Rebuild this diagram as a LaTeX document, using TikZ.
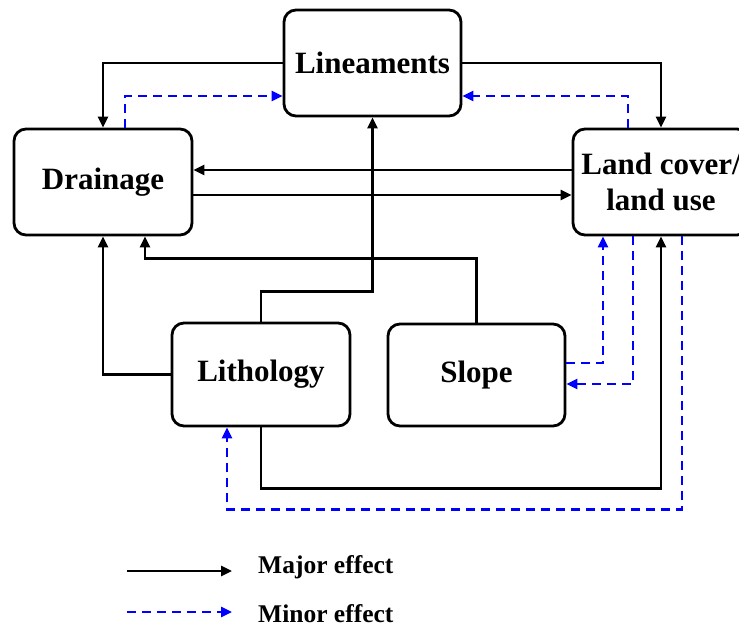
\documentclass[tikz,border=0pt]{standalone}
\usepackage{fontspec}
\setmainfont{Liberation Serif}
\usetikzlibrary{arrows.meta,calc}
\begin{document}
\begin{tikzpicture}[x=1pt,y=-1pt,
  box/.style={draw=black,line width=2.8pt,rounded corners=12pt,align=center,
    font=\fontsize{31}{36}\selectfont\bfseries,inner sep=0pt},
  major/.style={draw=black,line width=2.6pt,-{Triangle[length=11pt,width=10pt]}},
  minor/.style={draw=blue,line width=2.6pt,dash pattern=on 9pt off 6pt,-{Triangle[length=11pt,width=10pt]}},
  legtext/.style={anchor=base west,inner sep=0pt,font=\fontsize{25.5}{30}\selectfont\bfseries}]
\useasboundingbox[fill=white] (0,0) rectangle (739,628);

% boxes
\node[box,minimum width=177pt,minimum height=106pt] (lin) at (372.5,63) {Lineaments};
\node[box,minimum width=178pt,minimum height=106pt] (drain) at (103,182) {Drainage};
\node[box,minimum width=176pt,minimum height=106pt] (lc) at (661,182) {Land cover/\\land use};
\node[box,minimum width=178pt,minimum height=103pt] (lith) at (261,374.5) {Lithology};
\node[box,minimum width=177pt,minimum height=102pt] (slope) at (476.5,375) {Slope};

% connectors
\draw[major] (lin.west) -| (drain.north);
\draw[minor] ($(drain.north)+(22,0)$) |- ($(lin.west)+(0,33)$);
\draw[major] (lin.east) -| (lc.north);
\draw[minor] ($(lc.north)+(-33,0)$) |- ($(lin.east)+(0,33)$);
\draw[major] ($(lc.west)+(0,-12)$) -- ($(drain.east)+(0,-12)$);
\draw[major] ($(drain.east)+(0,13)$) -- ($(lc.west)+(0,13)$);
\draw[major] (slope.north) -- ++(0,-64) -| ($(drain.south)+(42,0)$);
\draw[major] (lith.north) -- ++(0,-30) -| (lin.south);
\draw[major] (lith.west) -| (drain.south);
\draw[major] (lith.south) -- ++(0,61) -| (lc.south);
\draw[minor] ($(lc.south)+(21,0)$) -- ++(0,273) -| ($(lith.south)+(-34,0)$);
\draw[minor] ($(slope.east)+(0,-12)$) -| ($(lc.south)+(-58,0)$);
\draw[minor] ($(lc.south)+(-28,0)$) |- ($(slope.east)+(0,9)$);

% legend
\coordinate (ma1) at (127,571);
\coordinate (ma2) at (232,571);
\coordinate (mi1) at (127,612);
\coordinate (mi2) at (232,612);
\draw[major] (ma1) -- (ma2);
\draw[minor] (mi1) -- (mi2);
\node[legtext] (majt) at (258,573) {Major effect};
\node[legtext] (mint) at (258,622) {Minor effect};
\end{tikzpicture}
\end{document}
